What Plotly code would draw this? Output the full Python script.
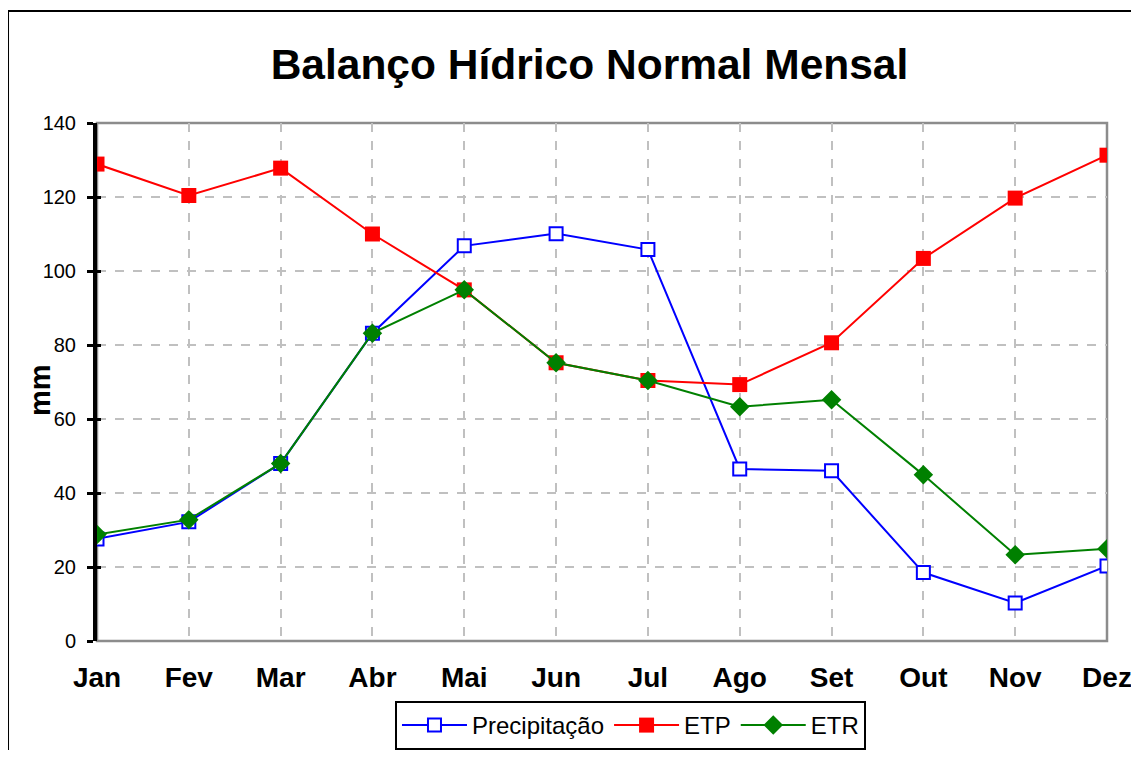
import plotly.graph_objects as go

months = ["Jan", "Fev", "Mar", "Abr", "Mai", "Jun", "Jul", "Ago", "Set", "Out", "Nov", "Dez"]
precipitacao = [27.6, 32.2, 48.0, 83.2, 106.8, 110.1, 105.8, 46.5, 46.0, 18.5, 10.3, 20.3]
etp = [128.9, 120.4, 127.8, 110.0, 94.9, 75.2, 70.4, 69.3, 80.6, 103.4, 119.7, 131.3]
etr = [28.8, 32.8, 48.0, 83.2, 94.9, 75.2, 70.4, 63.3, 65.2, 44.9, 23.3, 24.9]
y_ticks = [0, 20, 40, 60, 80, 100, 120, 140]

FONT = "Liberation Sans, Arial, sans-serif"

fig = go.Figure()
fig.add_trace(go.Scatter(
    x=months, y=precipitacao, name="Precipitação", mode="lines+markers",
    line=dict(color="#0000ff", width=2),
    marker=dict(symbol="square", size=13, color="white", line=dict(color="#0000ff", width=2)),
))
fig.add_trace(go.Scatter(
    x=months, y=etp, name="ETP", mode="lines+markers",
    line=dict(color="#ff0000", width=2),
    marker=dict(symbol="square", size=15, color="#ff0000", line=dict(color="#ff0000", width=0)),
))
fig.add_trace(go.Scatter(
    x=months, y=etr, name="ETR", mode="lines+markers",
    line=dict(color="#008000", width=2),
    marker=dict(symbol="diamond", size=15, color="#008000", line=dict(color="#008000", width=0)),
))

# invisible helper trace so the second y axis (inner tick marks) is drawn
fig.add_trace(go.Scatter(x=[months[0]], y=[0], yaxis="y2", showlegend=False,
                         hoverinfo="skip", mode="markers", marker=dict(opacity=0)))

grid_col = "#c0c0c0"
fig.update_layout(
    width=1123, height=742,
    paper_bgcolor="white", plot_bgcolor="white",
    margin=dict(l=89, r=24, t=115, b=109),
    font=dict(family=FONT, color="black"),
    title=dict(text="<b>Balanço Hídrico Normal Mensal</b>", x=0.5178, xanchor="center",
               y=0.925, yanchor="middle", font=dict(size=42.5, color="black")),
    xaxis=dict(
        type="category", categoryorder="array", categoryarray=months,
        range=[0, 11], showgrid=True, gridcolor=grid_col, griddash="dash", gridwidth=1.5,
        zeroline=False, showline=False, ticks="", automargin=False,
        tickfont=dict(size=28, color="black", family=FONT, weight="bold"),
        ticklabelstandoff=17,
    ),
    yaxis=dict(
        range=[0, 140], tickvals=y_ticks, showgrid=True, gridcolor=grid_col, griddash="dash",
        gridwidth=1.5, zeroline=False, showline=True, linecolor="black", linewidth=4,
        ticks="outside", ticklen=6, tickwidth=3, tickcolor="black", automargin=False,
        tickfont=dict(size=20, color="black"), ticklabelstandoff=7,
    ),
    yaxis2=dict(
        overlaying="y", side="left", range=[0, 140], tickvals=y_ticks, automargin=False,
        showgrid=False, zeroline=False, showline=False, showticklabels=False,
        ticks="inside", ticklen=4, tickwidth=3, tickcolor="black",
    ),
    legend=dict(
        orientation="h", xref="container", yref="container",
        x=0.3446, xanchor="left", y=0.0, yanchor="bottom",
        bordercolor="black", borderwidth=2, bgcolor="white",
        font=dict(size=24, color="black"), tracegroupgap=0, itemwidth=65,
    ),
    annotations=[
        dict(text="<b>mm</b>", xref="paper", yref="paper", x=-0.0564, y=0.4846,
             xanchor="center", yanchor="middle", textangle=-90, showarrow=False,
             font=dict(size=29, color="black", family=FONT)),
    ],
    shapes=[
        dict(type="rect", xref="paper", yref="paper", x0=0, x1=1, y0=0, y1=1,
             line=dict(color="#8c8c8c", width=2.5), layer="below"),
        dict(type="rect", xref="paper", yref="paper", x0=-0.0881, x1=1.2, y0=-0.4, y1=1.2162,
             line=dict(color="black", width=2), layer="below"),
    ],
)

fig.write_html("out.html")
